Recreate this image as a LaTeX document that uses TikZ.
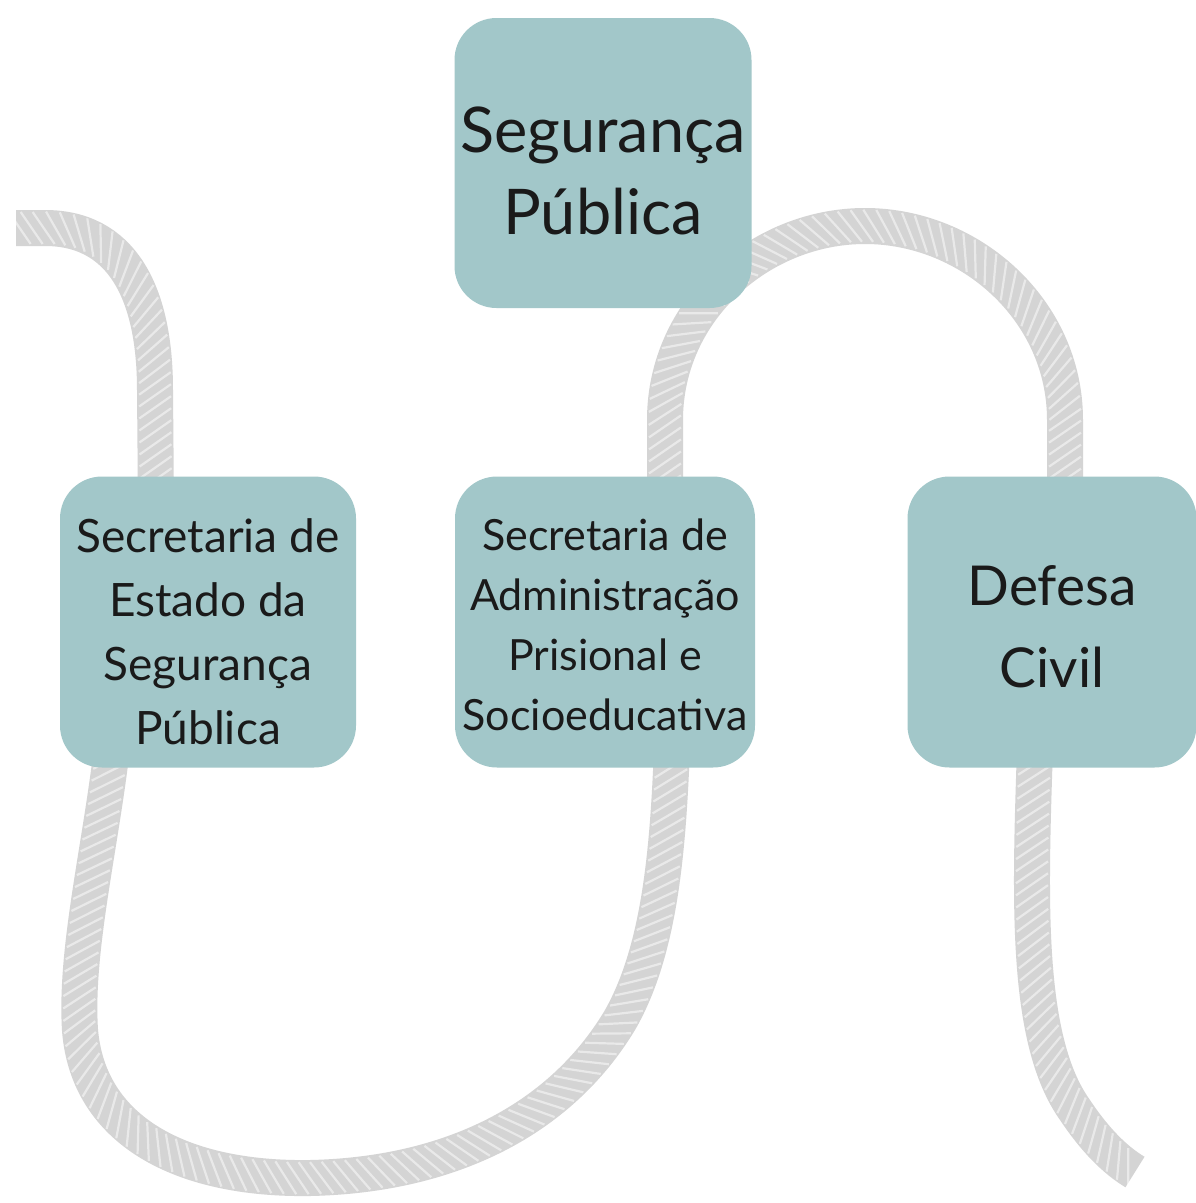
\documentclass[tikz,border=0pt]{standalone}
\usepackage{fontspec}
\setmainfont{Lato}
\usetikzlibrary{calc,decorations.markings}
\pgfdeclarelayer{back}
\pgfdeclarelayer{bg}
\pgfsetlayers{back,bg,main}
\definecolor{boxteal}{HTML}{A2C7C9}
\definecolor{ropegray}{HTML}{D4D4D4}
\definecolor{textblack}{HTML}{1A1A1A}
\tikzset{
  box/.style={fill=boxteal, rounded corners=42pt, minimum width=296pt, minimum height=291pt,
    inner sep=0pt},
  label text/.style={align=center, text=textblack, inner sep=0pt},
  rope/.style={draw=ropegray, line width=36pt, line cap=butt,
    postaction={decorate, decoration={markings,
      mark=between positions 0.01 and 0.99 step 12pt with
      {\draw[white, opacity=0.5, line width=2.2pt] (-11pt,16pt) -- (11pt,-16pt);}}}}
}
\begin{document}
\begin{tikzpicture}[x=1pt,y=-1pt]
\begin{pgfonlayer}{back}
\fill[white] (0,0) rectangle (1195,1203);
\end{pgfonlayer}
\useasboundingbox (0,0) rectangle (1195,1203);

\node[box, minimum width=297pt, minimum height=290pt] (top) at (603,163) {};
\node[box] (left) at (208,622) {};
\node[box, minimum width=300pt] (mid) at (605,622) {};
\node[box, minimum width=289pt] (right) at (1052,622) {};

\node[label text, font=\fontsize{63}{82}\selectfont, yshift=-8pt] (topT) at (top.center) {Segurança\\Pública};
\node[label text, font=\fontsize{46}{64}\selectfont, yshift=-10pt] (leftT) at (left.center) {Secretaria de\\Estado da\\Segurança\\Pública};
\node[label text, font=\fontsize{43}{60}\selectfont, yshift=-3pt] (midT) at (mid.center) {Secretaria de\\Administração\\Prisional e\\Socioeducativa};
\node[label text, font=\fontsize{55}{82}\selectfont, yshift=-5pt] (rightT) at (right.center) {Defesa\\Civil};

\coordinate (ropeA) at (16,228);
\coordinate (ropeB) at (1135,1172);

\begin{pgfonlayer}{bg}
\draw[rope] (ropeA) -- (45,228) .. controls (120,228) and (155,290) .. (155,390) -- ($(left.north)+(-52,30)$);
\draw[rope] ($(left.south)+(-96,-20)$) .. controls (100,850) and (75,950) .. (80,1030)
  .. controls (88,1130) and (180,1180) .. (310,1178)
  .. controls (450,1175) and (560,1120) .. (620,1020)
  .. controls (660,950) and (668,850) .. ($(mid.south)+(67,-20)$);
\draw[rope] ($(mid.north)+(60,30)$) -- (665,420) .. controls (665,310) and (760,226) .. (865,226)
  .. controls (970,226) and (1065,310) .. (1065,420) -- ($(right.north)+(13,30)$);
\draw[rope] ($(right.south)+(-17,-20)$) .. controls (1030,900) and (1025,1040) .. (1075,1110)
  .. controls (1095,1140) and (1115,1160) .. (ropeB);
\end{pgfonlayer}
\end{tikzpicture}
\end{document}
